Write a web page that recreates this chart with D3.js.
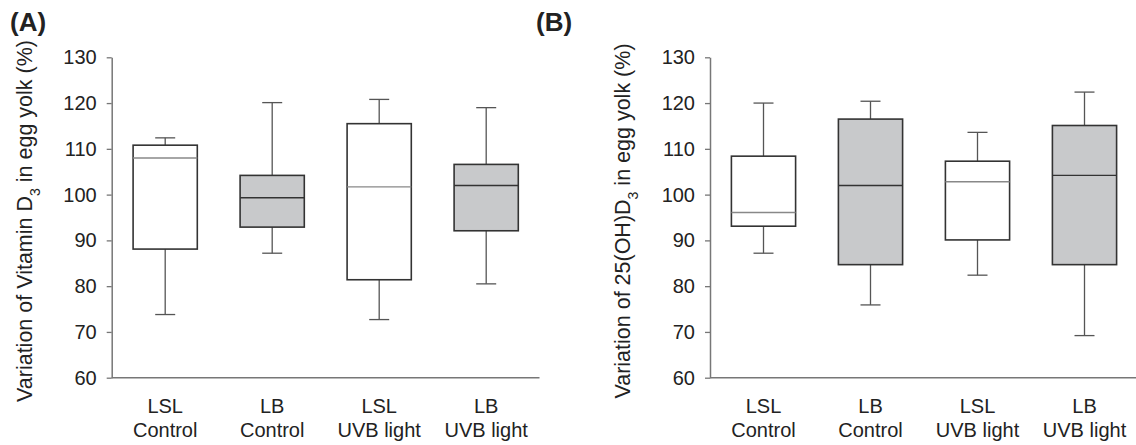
<!DOCTYPE html>
<html>
<head>
<meta charset="utf-8">
<script src="https://cdn.jsdelivr.net/npm/d3@7"></script>
<style>
    body { margin: 0; background: #fff; }
    text { font-family: 'Liberation Sans', Arial, sans-serif; fill: #222; }
    .axis path { stroke: #777; stroke-width: 1.5; }
    .axis line { stroke: #777; stroke-width: 1.3; }
    .axis text { font-size: 20px; fill: #222; }
</style>
</head>
<body>
<svg id="chart" width="1136" height="445"></svg>
<script>
// groups on the x axis
let strains = ['LSL', 'LB', 'LSL', 'LB']
let treatments = ['Control', 'Control', 'UVB light', 'UVB light']
let yTicks = [60, 70, 80, 90, 100, 110, 120, 130]

// [lower whisker, Q1, median, Q3, upper whisker] per group
let vitaminD3 = [
    [73.8, 88.1, 108.0, 110.8, 112.4],
    [87.2, 92.9, 99.3, 104.2, 120.1],
    [72.7, 81.4, 101.7, 115.5, 120.8],
    [80.5, 92.1, 102.0, 106.6, 119.0]
]
let ohD3 = [
    [87.2, 93.1, 96.1, 108.4, 120.0],
    [75.9, 84.7, 102.0, 116.5, 120.4],
    [82.4, 90.1, 102.8, 107.3, 113.6],
    [69.2, 84.7, 104.2, 115.1, 122.4]
]

function main() {
    let svg = d3.select('#chart')

    let y = d3.scaleLinear().domain([60, 130]).range([377.7, 57.3])

    function drawPanel(opts) {
        let x = d3.scaleBand()
            .domain(d3.range(strains.length))
            .range([opts.left, opts.left + 428])
            .paddingInner(0.4)
            .paddingOuter(0.2)
        let g = svg.append('g')

        // x axis line, no ticks
        g.append('line')
            .attr('x1', opts.left).attr('x2', opts.axisEnd)
            .attr('y1', y(60)).attr('y2', y(60))
            .attr('stroke', '#777').attr('stroke-width', 1.5)

        g.append('g')
            .attr('class', 'axis')
            .attr('transform', 'translate(' + opts.left + ',0)')
            .call(d3.axisLeft(y).tickValues(yTicks).tickSize(5).tickPadding(10).tickSizeOuter(0))

        let boxes = g.selectAll('.box')
            .data(opts.data)
            .enter()
            .append('g')
            .attr('class', 'box')

        let cx = (d, i) => x(i) + x.bandwidth() / 2
        let gray = i => strains[i] === 'LB'

        // whiskers
        boxes.append('line')
            .attr('x1', cx).attr('x2', cx)
            .attr('y1', d => y(d[0])).attr('y2', d => y(d[1]))
            .attr('stroke', '#555').attr('stroke-width', 1.3)
        boxes.append('line')
            .attr('x1', cx).attr('x2', cx)
            .attr('y1', d => y(d[3])).attr('y2', d => y(d[4]))
            .attr('stroke', '#555').attr('stroke-width', 1.3)
        boxes.append('line')
            .attr('x1', (d, i) => cx(d, i) - 10).attr('x2', (d, i) => cx(d, i) + 10)
            .attr('y1', d => y(d[0])).attr('y2', d => y(d[0]))
            .attr('stroke', '#555').attr('stroke-width', 1.3)
        boxes.append('line')
            .attr('x1', (d, i) => cx(d, i) - 10).attr('x2', (d, i) => cx(d, i) + 10)
            .attr('y1', d => y(d[4])).attr('y2', d => y(d[4]))
            .attr('stroke', '#555').attr('stroke-width', 1.3)

        boxes.append('rect')
            .attr('x', (d, i) => x(i))
            .attr('width', x.bandwidth())
            .attr('y', d => y(d[3]))
            .attr('height', d => y(d[1]) - y(d[3]))
            .attr('fill', (d, i) => gray(i) ? '#c8c9cb' : '#fff')
            .attr('stroke', '#333')
            .attr('stroke-width', 1.6)

        boxes.append('line')
            .attr('x1', (d, i) => x(i)).attr('x2', (d, i) => x(i) + x.bandwidth())
            .attr('y1', d => y(d[2])).attr('y2', d => y(d[2]))
            .attr('stroke', (d, i) => gray(i) ? '#333' : '#888')
            .attr('stroke-width', 1.4)

        // category labels
        let labels = g.selectAll('.cat')
            .data(strains)
            .enter()
            .append('text')
            .attr('class', 'cat')
            .attr('text-anchor', 'middle')
            .style('font-size', '20px')
        labels.append('tspan')
            .attr('x', (d, i) => cx(d, i)).attr('y', 413)
            .text(d => d)
        labels.append('tspan')
            .attr('x', (d, i) => cx(d, i)).attr('y', 437)
            .text((d, i) => treatments[i])

        // y title
        let title = g.append('text')
            .attr('text-anchor', 'middle')
            .attr('transform', 'translate(' + opts.titleX + ',221) rotate(-90)')
            .style('font-size', '21.5px')
        title.append('tspan').text(opts.titlePre)
        title.append('tspan').text('3')
            .attr('baseline-shift', 'sub')
            .style('font-size', '14px')
        title.append('tspan').text(' in egg yolk (%)')

        svg.append('text')
            .attr('x', opts.tagX).attr('y', 31)
            .style('font-size', '26px')
            .style('font-weight', 'bold')
            .text(opts.tag)
    }

    drawPanel({
        data: vitaminD3, left: 111.7, axisEnd: 539.5,
        titleX: 32, titlePre: 'Variation of Vitamin D', tag: '(A)', tagX: 10
    })
    drawPanel({
        data: ohD3, left: 710, axisEnd: 1136,
        titleX: 630, titlePre: 'Variation of 25(OH)D', tag: '(B)', tagX: 536
    })
}

main()
</script>
</body>
</html>
